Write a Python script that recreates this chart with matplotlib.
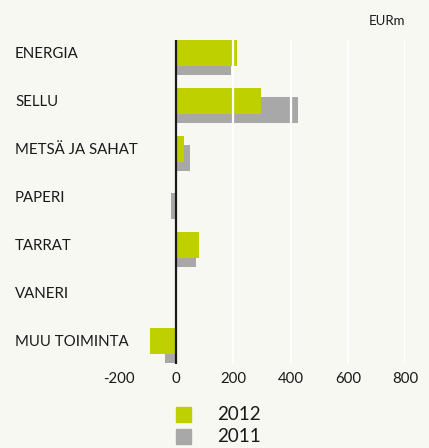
import matplotlib
matplotlib.use("Agg")
import matplotlib.pyplot as plt
import matplotlib.transforms as mtransforms
from matplotlib.patches import Rectangle

categories = ["ENERGIA", "SELLU", "METSÄ JA SAHAT", "PAPERI", "TARRAT", "VANERI", "MUU TOIMINTA"]
values_2012 = [212, 296, 28, 1, 80, 2, -90]
values_2011 = [191, 424, 49, -17, 70, 1, -38]
series_names = ["2012", "2011"]
xticks = [-200, 0, 200, 400, 600, 800]
unit_label = "EURm"

GREEN = "#bfd000"
GRAY = "#a8a8a8"
BG = "#f6f8f1"
FONT = ["Lato", "DejaVu Sans"]

W, H = 429, 448
fig = plt.figure(figsize=(W / 100, H / 100), dpi=100, facecolor=BG)

# axes in pixel coordinates
x0, x1 = 118.5, 405.5
y_top, y_bot = 40, 364
ax = fig.add_axes([x0 / W, 1 - y_bot / H, (x1 - x0) / W, (y_bot - y_top) / H])
ax.set_facecolor(BG)
ax.set_xlim(-200, 800)
ax.set_ylim(6.39, -0.36)

pos = list(range(len(categories)))
h = 26 / 48
off = 4.5 / 48
ax.barh([p + off for p in pos], values_2011, height=h, color=GRAY, zorder=2)
ax.barh([p - off for p in pos], values_2012, height=h, color=GREEN, zorder=3)

for g in xticks:
    if g > 0:
        ax.axvline(g, color="white", lw=1.6, zorder=4)
ax.axvline(0, color="#1a1a1a", lw=1.6, zorder=5)

for s in ax.spines.values():
    s.set_visible(False)
ax.set_yticks([])
ax.set_xticks(xticks)
ax.set_xticklabels([str(t) for t in xticks], fontsize=10.8, family=FONT, color="#1a1a1a")
ax.tick_params(axis="x", length=0, pad=6)

trans = mtransforms.blended_transform_factory(fig.transFigure, ax.transData)
for p, c in zip(pos, categories):
    ax.text(15 / W, p - 0.06, c, transform=trans, ha="left", va="center",
            fontsize=10.8, family=FONT, color="#1a1a1a")

fig.text(405 / W, 1 - 21 / H, unit_label, ha="right", va="center", fontsize=9.5,
         family=FONT, color="#1a1a1a")

# legend
for i, (name, col) in enumerate(zip(series_names, [GREEN, GRAY])):
    yc = 414.5 + 22 * i
    fig.patches.append(Rectangle((176 / W, 1 - (yc + 7.5) / H), 15 / W, 15 / H,
                                 transform=fig.transFigure, color=col, figure=fig))
    fig.text(217 / W, 1 - yc / H, name, ha="left", va="center", fontsize=13.5,
             family=FONT, color="#1a1a1a")

fig.savefig("out.png", dpi=100, facecolor=BG)
